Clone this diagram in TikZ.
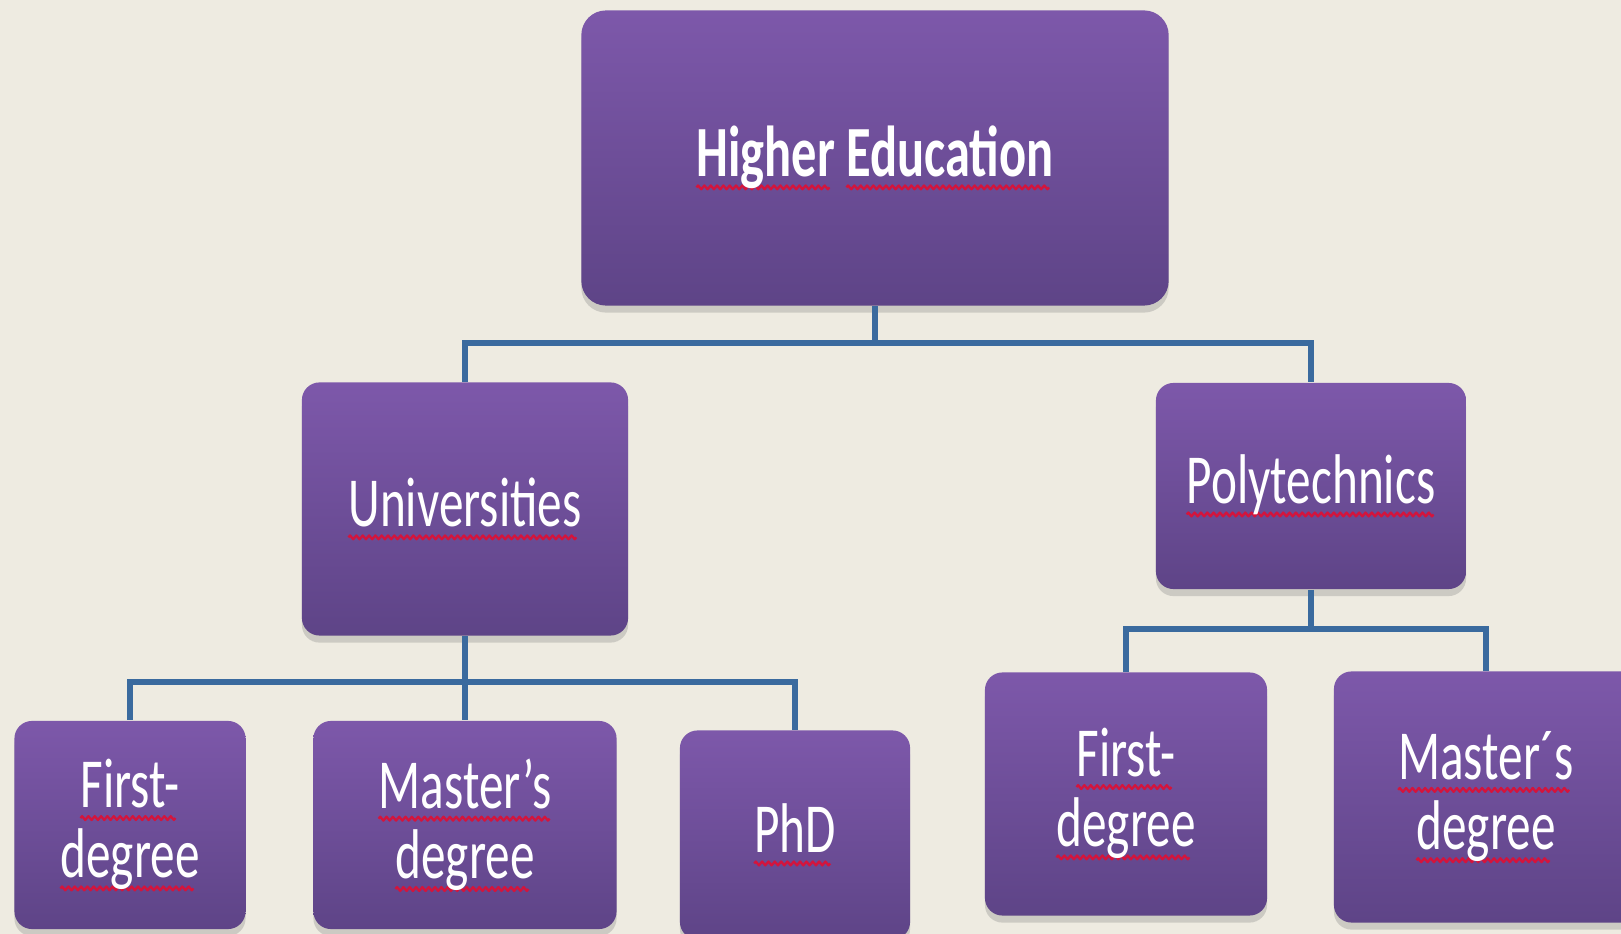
\documentclass[tikz,border=0pt]{standalone}
\usepackage{fontspec}
\setmainfont[FakeStretch=0.7]{Carlito}
\usetikzlibrary{shadows}

\definecolor{bgtan}{HTML}{EEEBE1}
\definecolor{purptop}{HTML}{7D58AA}
\definecolor{purpbot}{HTML}{5E4487}
\definecolor{linkblue}{HTML}{3A6A9E}
\definecolor{waver}{HTML}{D4143C}

\newsavebox\wordbox
\newsavebox\wavebit
\newcommand\spellwave[1]{\sbox\wordbox{#1}%
  \rlap{\raisebox{-3pt}{\leaders\copy\wavebit\hskip\wd\wordbox}}%
  \usebox\wordbox}

\tikzset{
  box/.style={rounded corners=5pt, top color=purptop, bottom color=purpbot, draw=none,
    drop shadow={shadow xshift=0pt, shadow yshift=-2pt, opacity=.3},
    text=white, align=center, inner sep=0pt, font=\fontsize{20}{20}\selectfont},
  link/.style={linkblue, line width=1.45pt}
}

\begin{document}
\begin{tikzpicture}[x=0.01cm, y=-0.01cm]
\sbox\wavebit{\tikz[baseline=-.7pt]{\useasboundingbox (0pt,-1.4pt) rectangle (1.8pt,0pt);
  \draw[waver, line width=.65pt, line join=round] (0pt,-.7pt) -- (.45pt,-.15pt) -- (1.35pt,-1.25pt) -- (1.8pt,-.7pt);}}%
\fill[bgtan] (0,0) rectangle (1621,934);
\useasboundingbox (0,0) rectangle (1621,934);

\node[box, rounded corners=7pt, minimum width=5.87cm, minimum height=2.95cm, font=\fontsize{20.5}{20.5}\bfseries\selectfont] (he) at (875,158) {\spellwave{Higher} \spellwave{Education}};

\node[box, minimum width=3.26cm, minimum height=2.53cm] (univ) at (465,509) {\spellwave{Universities}};
\node[box, minimum width=3.10cm, minimum height=2.06cm] (poly) at (1311,486) {\spellwave{Polytechnics}};

\node[box, minimum width=2.31cm, minimum height=2.08cm] (ufirst) at (130,825) {\spellwave{First-}\\\spellwave{degree}};
\node[box, minimum width=3.03cm, minimum height=2.08cm] (umas) at (465,825) {\spellwave{Master’s}\\\spellwave{degree}};
\node[box, minimum width=2.30cm, minimum height=2.09cm] (phd) at (795,835) {\spellwave{PhD}};

\node[box, minimum width=2.82cm, minimum height=2.43cm] (pfirst) at (1126,794) {\spellwave{First-}\\\spellwave{degree}};
\node[box, minimum width=3.04cm, minimum height=2.51cm] (pmas) at (1486,797) {\spellwave{Master´s}\\\spellwave{degree}};

\coordinate (b1) at (875,343);
\coordinate (b2) at (465,682);
\coordinate (b3) at (1311,629);

\draw[link] (he.south) -- (b1);
\foreach \c in {univ, poly}
  \draw[link] (b1) -| (\c.north);

\draw[link] (univ.south) -- (umas.north);
\foreach \c in {ufirst, phd}
  \draw[link] (b2) -| (\c.north);

\draw[link] (poly.south) -- (b3);
\foreach \c in {pfirst, pmas}
  \draw[link] (b3) -| (\c.north);

\end{tikzpicture}
\end{document}
